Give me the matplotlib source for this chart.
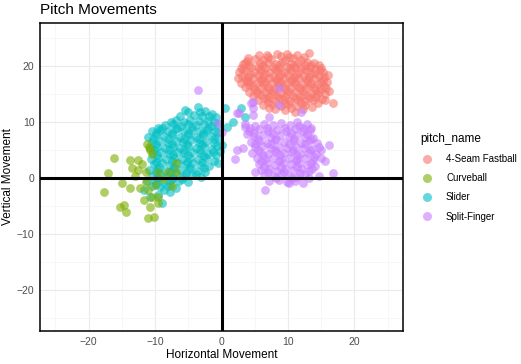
import matplotlib
matplotlib.use("Agg")
import matplotlib.pyplot as plt
from matplotlib.lines import Line2D

plt.rcParams['font.family'] = ['Liberation Sans', 'DejaVu Sans']

# pitch movement points (horizontal, vertical)
fastball = [
    (5.6, 22.0), (8.4, 22.1), (8.9, 21.8), (11.4, 22.0), (13.1, 22.3), (7.0, 21.6), (10.2, 21.7),
    (3.9, 20.9), (5.0, 21.2), (6.3, 21.0), (7.5, 21.3), (9.5, 21.1), (10.8, 21.4), (12.0, 21.0),
    (12.9, 20.8), (13.9, 20.6), (4.2, 20.2),
    (3.2, 20.3), (5.8, 20.5), (7.0, 20.6), (8.2, 20.4), (9.1, 20.7), (10.4, 20.3), (11.5, 20.6),
    (12.5, 20.2), (14.6, 20.1), (15.0, 19.7),
    (2.9, 19.6), (4.5, 19.8), (5.5, 19.9), (6.6, 19.7), (7.8, 19.9), (8.7, 19.6), (9.8, 19.9),
    (11.0, 19.8), (12.0, 19.6), (13.3, 19.8), (14.1, 19.4),
    (2.6, 18.9), (3.7, 19.1), (4.9, 19.0), (6.0, 19.2), (7.2, 18.9), (8.3, 19.1), (9.4, 19.0),
    (10.5, 19.2), (11.7, 18.9), (12.8, 19.1), (14.0, 18.8), (15.2, 18.9), (16.0, 18.4),
    (3.1, 18.3), (4.3, 18.5), (5.5, 18.4), (6.6, 18.6), (7.8, 18.3), (8.9, 18.5), (10.0, 18.4),
    (11.2, 18.6), (12.3, 18.3), (13.4, 18.5), (14.6, 18.2),
    (2.5, 17.8), (3.6, 17.7), (4.8, 17.9), (6.0, 17.6), (7.1, 17.8), (8.2, 17.6), (9.4, 17.9),
    (10.6, 17.7), (11.7, 17.9), (12.9, 17.6), (14.0, 17.8), (15.2, 17.5), (15.9, 17.2),
    (3.0, 17.0), (4.2, 17.2), (5.3, 16.9), (6.5, 17.1), (7.6, 16.9), (8.8, 17.2), (9.9, 16.9),
    (11.1, 17.1), (12.2, 16.8), (13.4, 17.0), (14.5, 16.7), (15.4, 16.5),
    (3.5, 16.2), (4.7, 16.4), (5.9, 16.1), (7.0, 16.3), (8.1, 16.0), (9.3, 16.4), (10.4, 16.1),
    (11.6, 16.3), (12.7, 16.0), (13.9, 16.2), (15.0, 15.9), (16.2, 15.6),
    (4.2, 15.4), (5.4, 15.6), (6.5, 15.3), (7.7, 15.5), (8.8, 15.2), (10.0, 15.5), (11.1, 15.3),
    (12.3, 15.6), (13.4, 15.2), (14.6, 15.4), (15.5, 15.0),
    (4.8, 14.6), (6.0, 14.8), (7.2, 14.5), (8.4, 14.7), (9.5, 14.4), (10.7, 14.7), (11.8, 14.5),
    (13.0, 14.7), (14.2, 14.4), (15.1, 14.1),
    (5.5, 13.9), (6.8, 14.1), (8.0, 13.8), (9.2, 14.0), (10.3, 13.7), (11.5, 14.0), (12.6, 13.8),
    (13.7, 14.0), (14.5, 13.4), (16.8, 13.4), (15.6, 13.9),
    (6.2, 13.1), (7.6, 13.2), (8.9, 12.9), (10.1, 13.2), (11.4, 12.8), (12.5, 13.1), (13.6, 12.7),
    (8.0, 12.4), (9.6, 12.1), (11.1, 11.8), (12.2, 12.3), (7.2, 12.5),
    (4.0, 21.5), (6.9, 21.9), (9.8, 22.2), (12.4, 21.6), (3.6, 20.6), (6.3, 20.1), (8.6, 20.1),
    (10.9, 20.2), (13.5, 20.2), (3.3, 19.4), (5.8, 19.5), (8.0, 19.5), (10.3, 19.6), (12.6, 19.5),
    (14.8, 19.3), (4.0, 18.0), (6.3, 18.1), (8.6, 18.0), (10.9, 18.1), (13.2, 18.0), (15.4, 18.1),
    (3.8, 17.4), (6.0, 17.3), (8.3, 17.4), (10.5, 17.3), (12.8, 17.4), (14.9, 17.2), (4.1, 16.6),
    (6.4, 16.7), (8.7, 16.6), (11.0, 16.7), (13.3, 16.6), (15.7, 16.1), (4.9, 15.9), (7.2, 15.8),
    (9.6, 15.9), (11.8, 15.9), (14.1, 15.8), (5.3, 15.1), (7.6, 15.0), (9.9, 15.0), (12.2, 14.9),
    (14.4, 15.0), (6.4, 14.2), (8.7, 14.2), (11.0, 14.3), (13.3, 14.2), (7.0, 13.5), (9.5, 13.4),
    (12.0, 13.4), (10.4, 12.5),
]

curveball = [
    (-16.2, 3.6), (-17.0, 0.9), (-17.7, -2.5), (-13.7, 3.2), (-12.5, 3.2), (-10.7, 5.0),
    (-10.5, 4.2), (-13.4, 1.8), (-12.5, 1.4), (-11.4, 1.1), (-9.5, 1.1), (-8.1, 1.1),
    (-6.9, 2.7), (-6.9, 1.1), (-14.9, -0.9), (-13.7, -1.8), (-12.2, -1.8), (-11.4, -0.7),
    (-11.0, -2.1), (-10.4, -3.4), (-11.7, -3.9), (-9.6, -3.4), (-9.5, -4.5), (-15.2, -5.2),
    (-14.7, -4.8), (-14.4, -6.1), (-10.7, -5.2), (-11.1, -7.1), (-10.2, -7.0), (-11.2, 6.0),
    (-10.9, 5.5), (-12.0, 2.5), (-10.0, -1.2), (-8.8, -0.2), (-13.0, 0.3), (-7.5, -1.5),
]

slider = [
    (-4.2, 11.3), (-5.5, 12.2), (-3.6, 12.6), (-2.5, 12.0), (-1.5, 11.5), (-6.3, 11.0),
    (-3.0, 11.0), (-4.8, 10.4), (-0.8, 10.8), (-2.0, 10.2), (-6.8, 10.3), (-9.6, 8.9),
    (-8.5, 9.4), (-7.3, 9.6), (-6.1, 9.3), (-5.0, 9.7), (-3.8, 9.4), (-2.7, 9.6), (-1.5, 9.3), (-0.5, 9.6),
    (-10.4, 8.3), (-9.2, 8.6), (-8.0, 8.4), (-6.9, 8.7), (-5.7, 8.3), (-4.5, 8.6), (-3.3, 8.4),
    (-2.2, 8.6), (-1.0, 8.3),
    (-11.0, 7.3), (-9.8, 7.6), (-8.6, 7.4), (-7.4, 7.7), (-6.3, 7.3), (-5.1, 7.6), (-3.9, 7.3),
    (-2.8, 7.6), (-1.6, 7.4), (-0.6, 7.1),
    (-10.5, 6.4), (-9.3, 6.6), (-8.1, 6.3), (-6.9, 6.6), (-5.8, 6.4), (-4.6, 6.7), (-3.4, 6.3),
    (-2.3, 6.5), (-1.2, 6.2),
    (-10.8, 5.4), (-9.7, 5.6), (-8.5, 5.3), (-7.3, 5.6), (-6.2, 5.4), (-5.0, 5.7), (-3.9, 5.4),
    (-2.7, 5.6), (-1.4, 5.2),
    (-10.3, 4.4), (-9.1, 4.6), (-7.9, 4.3), (-6.7, 4.6), (-5.6, 4.4), (-4.4, 4.7), (-3.2, 4.4),
    (-2.0, 4.3), (-0.8, 4.0),
    (-10.6, 3.4), (-9.5, 3.6), (-8.3, 3.3), (-7.1, 3.6), (-6.0, 3.4), (-4.8, 3.6), (-3.6, 3.3),
    (-2.4, 3.5), (-0.6, 2.7),
    (-10.2, 2.4), (-9.0, 2.6), (-7.8, 2.3), (-6.6, 2.6), (-5.4, 2.4), (-4.3, 2.6), (-3.1, 2.3), (-1.9, 2.2),
    (-10.9, 1.4), (-9.7, 1.6), (-8.5, 1.3), (-7.3, 1.6), (-6.1, 1.4), (-4.9, 1.5), (-3.7, 1.2), (-2.5, 1.1),
    (-10.4, 0.4), (-9.2, 0.6), (-8.0, 0.3), (-6.8, 0.6), (-5.6, 0.4), (-4.4, 0.5), (-3.1, 0.2),
    (-11.2, -0.6), (-10.0, -0.4), (-8.8, -0.7), (-7.6, -0.4), (-6.4, -0.6), (-5.0, -0.8),
    (-11.7, -2.1), (-10.5, -1.5), (-9.3, -1.7), (-8.1, -1.4), (-6.9, -1.8),
    (-8.9, -4.5), (-9.6, -3.0), (-7.8, -2.6), (-10.8, -3.4),
    (0.6, 12.5), (2.9, 12.5), (3.6, 10.9), (1.7, 10.0), (0.9, 9.1), (0.15, 5.9), (-0.3, 4.8),
    (-5.0, 11.8), (-3.3, 11.7), (-1.9, 11.0), (-7.6, 10.0), (-5.6, 10.0), (-3.4, 10.1), (-1.2, 10.0),
    (-9.0, 9.0), (-6.7, 9.0), (-4.4, 9.1), (-2.1, 9.0), (-9.8, 8.0), (-7.5, 8.1), (-5.1, 8.0),
    (-2.8, 8.0), (-0.6, 8.2), (-10.3, 7.0), (-8.0, 7.0), (-5.7, 6.9), (-3.4, 7.0), (-1.1, 6.9),
    (-9.9, 6.0), (-7.5, 6.0), (-5.2, 6.1), (-2.9, 6.0), (-0.7, 5.7), (-10.2, 4.9), (-7.9, 5.0),
    (-5.6, 4.9), (-3.3, 5.0), (-1.3, 4.7), (-9.7, 4.0), (-7.3, 4.0), (-5.0, 4.0), (-2.7, 3.9),
    (-9.9, 2.9), (-7.5, 3.0), (-5.2, 2.9), (-3.0, 2.9), (-1.2, 3.1), (-9.4, 2.0), (-7.1, 2.0),
    (-4.8, 2.0), (-2.6, 1.7), (-9.9, 1.0), (-7.7, 1.0), (-5.4, 0.9), (-3.9, 0.7), (-9.6, -0.1),
    (-7.3, 0.0), (-5.9, -0.2), (-9.9, -1.1), (-7.8, -1.1), (-8.6, -2.2),
]

splitter = [
    (-3.5, 15.7), (8.6, 16.1), (8.6, 13.0), (4.4, 13.4), (4.7, 12.5), (2.4, 11.6), (11.9, 11.8),
    (7.1, 10.9), (4.7, 13.6), (2.6, 11.6), (4.8, 11.3), (11.4, 10.0), (3.6, 9.1), (-0.6, 9.8),
    (0.0, 8.2), (2.4, 5.0), (2.0, 3.4), (3.2, 5.4), (16.1, 5.9), (16.8, 0.9), (14.9, 3.6),
    (6.6, -2.1), (10.1, -0.9),
    (3.5, 9.6), (5.0, 9.3), (6.4, 9.7), (7.8, 9.4), (9.0, 9.8), (10.3, 9.5), (11.6, 9.2), (12.8, 9.6), (13.5, 9.0),
    (4.2, 8.4), (5.6, 8.7), (7.0, 8.3), (8.3, 8.6), (9.7, 8.4), (11.0, 8.7), (12.2, 8.3), (13.3, 8.5), (3.8, 7.8),
    (4.9, 7.5), (6.2, 7.7), (7.5, 7.3), (8.8, 7.6), (10.1, 7.4), (11.4, 7.7), (12.6, 7.3), (13.8, 7.1),
    (4.4, 6.4), (5.7, 6.6), (6.9, 6.3), (8.1, 6.7), (9.4, 6.4), (10.7, 6.6), (11.9, 6.3), (13.1, 6.6), (14.3, 6.2),
    (5.0, 5.5), (6.3, 5.7), (7.5, 5.4), (8.7, 5.6), (9.9, 5.3), (11.2, 5.6), (12.4, 5.4), (13.6, 5.2), (15.0, 5.0),
    (4.6, 4.4), (5.8, 4.6), (7.0, 4.3), (8.2, 4.6), (9.4, 4.4), (10.6, 4.7), (11.8, 4.3), (13.0, 4.5), (14.2, 4.2),
    (5.3, 3.5), (6.5, 3.3), (7.7, 3.6), (8.9, 3.4), (10.1, 3.6), (11.3, 3.3), (12.5, 3.5), (13.7, 3.2), (15.5, 3.0),
    (5.6, 2.4), (6.8, 2.6), (8.0, 2.3), (9.2, 2.6), (10.4, 2.4), (11.6, 2.6), (12.8, 2.3), (14.0, 2.1),
    (6.0, 1.4), (7.2, 1.6), (8.4, 1.3), (9.6, 1.6), (10.8, 1.4), (12.0, 1.5), (13.2, 1.2), (5.1, 1.0),
    (6.4, 0.5), (7.7, 0.3), (8.9, 0.6), (10.2, 0.4), (11.4, 0.2), (12.6, 0.6), (14.6, 0.3),
    (7.2, -0.6), (8.6, -0.3), (9.8, -0.8), (11.0, -0.5), (12.3, -0.9),
    (4.3, 9.0), (6.9, 9.0), (9.6, 9.0), (12.2, 9.0), (4.9, 8.0), (7.6, 8.0), (10.4, 8.0), (12.9, 7.9),
    (5.5, 7.0), (8.2, 7.0), (10.9, 7.0), (13.4, 6.9), (5.0, 6.0), (7.5, 6.0), (10.1, 6.0), (12.6, 6.0),
    (14.6, 5.6), (5.5, 5.0), (8.1, 5.0), (10.7, 5.0), (13.3, 4.9), (6.2, 4.0), (8.8, 4.0), (11.4, 4.0),
    (13.9, 3.8), (6.0, 3.0), (8.6, 3.0), (11.2, 3.0), (13.5, 2.7), (6.4, 2.0), (8.9, 2.0), (11.3, 2.0),
    (13.6, 1.6), (7.0, 1.0), (9.4, 1.0), (11.8, 0.9), (8.2, 0.0), (10.6, 0.0), (13.2, -0.1),
]

pitch_names = ['4-Seam Fastball', 'Curveball', 'Slider', 'Split-Finger']
pitch_colors = ['#F8766D', '#7CAE00', '#00BFC4', '#C77CFF']
pitch_data = [fastball, curveball, slider, splitter]

W, H = 521, 364
fig = plt.figure(figsize=(W / 100, H / 100), dpi=100)
ax = fig.add_axes([40 / W, (H - 331) / H, 363 / W, 308 / H])

draw_order = [0, 2, 1, 3]
for i in draw_order:
    xs, ys = zip(*pitch_data[i])
    ax.scatter(xs, ys, s=40, color=pitch_colors[i], alpha=0.6, linewidths=0, zorder=3)

# axes through origin
ax.axhline(0, color='black', lw=2.2, zorder=4)
ax.axvline(0, color='black', lw=2.2, zorder=4)

ax.set_xlim(-27.3, 27.3)
ax.set_ylim(-27.4, 27.7)
ax.set_xticks([-20, -10, 0, 10, 20])
ax.set_yticks([-20, -10, 0, 10, 20])
ax.set_xticks([-25, -15, -5, 5, 15, 25], minor=True)
ax.set_yticks([-25, -15, -5, 5, 15, 25], minor=True)
ax.grid(which='major', color='#EBEBEB', lw=0.8, zorder=0)
ax.grid(which='minor', color='#F4F4F4', lw=0.5, zorder=0)
ax.set_axisbelow(True)
ax.tick_params(which='both', length=0, labelsize=7.5, labelcolor='#4D4D4D', pad=4)
for sp in ax.spines.values():
    sp.set_color('black')
    sp.set_linewidth(1.1)

ax.set_xlabel('Horizontal Movement', fontsize=8.5, labelpad=2)
ax.set_ylabel('Vertical Movement', fontsize=8.5, labelpad=2)
fig.text(40 / W, 1 - 10 / H, 'Pitch Movements', fontsize=11, ha='left', va='center')

handles = [Line2D([], [], marker='o', ls='', ms=6.5, mew=0, color=c, alpha=0.6)
           for c in pitch_colors]
leg = fig.legend(handles, pitch_names, title='pitch_name', loc='upper left',
                 bbox_to_anchor=(412 / W, 1 - 124 / H), frameon=False,
                 fontsize=7, title_fontsize=8.5, labelspacing=0.95,
                 handletextpad=1.4, handlelength=1.2)
leg._legend_box.align = 'left'

fig.savefig('out.png', dpi=100)
